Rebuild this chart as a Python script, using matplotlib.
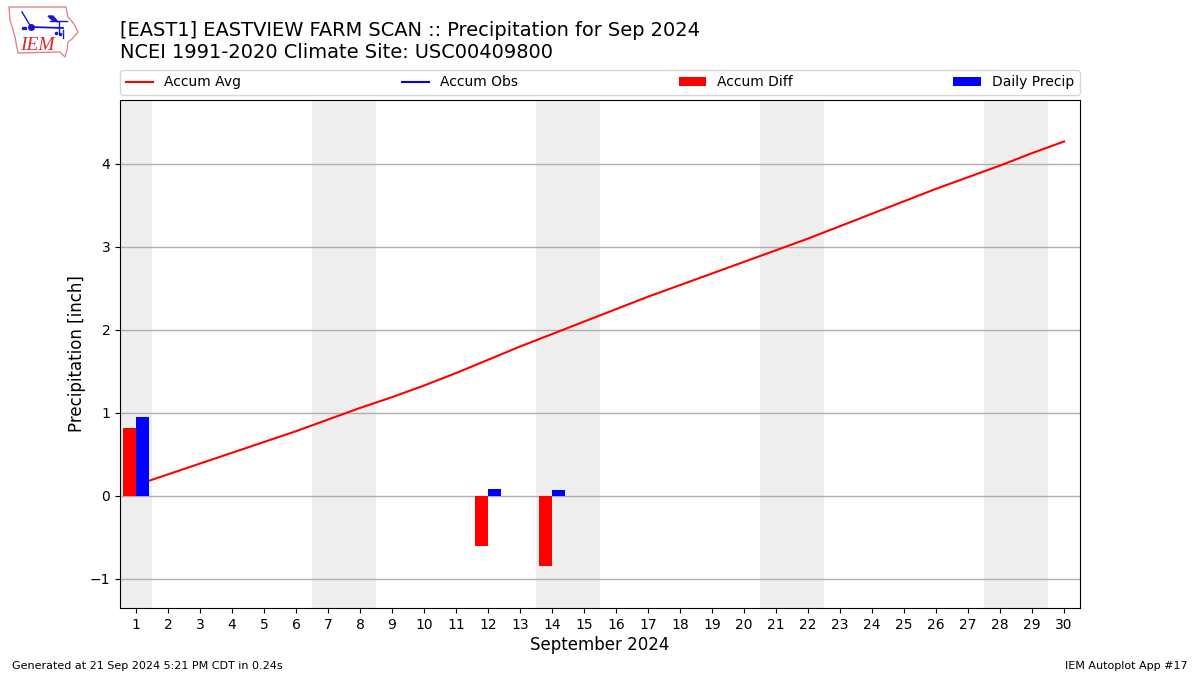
import numpy as np
import matplotlib
matplotlib.use('Agg')
import matplotlib.pyplot as plt
from matplotlib.patches import Polygon

days = list(range(1, 31))
accum_avg = [0.13, 0.26, 0.39, 0.52, 0.65, 0.78, 0.92, 1.06, 1.19, 1.33,
             1.48, 1.64, 1.80, 1.95, 2.10, 2.25, 2.40, 2.54, 2.68, 2.82,
             2.96, 3.10, 3.25, 3.40, 3.55, 3.70, 3.84, 3.98, 4.13, 4.27]
accum_obs = [np.nan] * 30
rain_days = [1, 12, 14]
accum_diff = [0.82, -0.60, -0.85]
daily_precip = [0.95, 0.085, 0.07]
weekends = [(0.5, 1.5), (6.5, 8.5), (13.5, 15.5), (20.5, 22.5), (27.5, 29.5)]

W, H = 1200, 675
fig = plt.figure(figsize=(12, 6.75), dpi=100)
ax = fig.add_axes([120 / W, 1 - 608 / H, 960 / W, 508 / H])

for a, b in weekends:
    ax.axvspan(a, b, color='#eeeeee', lw=0, zorder=0)
ax.grid(axis='y', color='#b0b0b0', lw=1)
ax.set_axisbelow(True)

ax.plot(days, accum_avg, color='red', lw=1.5, label='Accum Avg', zorder=2)
ax.plot(days, accum_obs, color='blue', lw=1.5, label='Accum Obs', zorder=2)
ax.bar([d - 0.2 for d in rain_days], accum_diff, width=0.4, color='red',
       label='Accum Diff', zorder=3)
ax.bar([d + 0.2 for d in rain_days], daily_precip, width=0.4, color='blue',
       label='Daily Precip', zorder=3)

ax.set_xlim(0.5, 30.5)
ax.set_ylim(-1.35, 4.77)
ax.set_xticks(days)
ax.set_yticks([-1, 0, 1, 2, 3, 4])
ax.set_xlabel('September 2024', fontsize=12, labelpad=2.8)
ax.set_ylabel('Precipitation [inch]', fontsize=12, labelpad=3)
ax.legend(loc='lower left', bbox_to_anchor=(0, 1 + 5 / 508, 1, 0.05), ncol=4,
          mode='expand', borderaxespad=0, fontsize=10)

fig.text(120 / W, 1 - 30 / H, '[EAST1] EASTVIEW FARM SCAN :: Precipitation for Sep 2024',
         fontsize=13.98, va='center')
fig.text(120 / W, 1 - 52 / H, 'NCEI 1991-2020 Climate Site: USC00409800',
         fontsize=13.98, va='center')
fig.text(12 / W, 1 - 666 / H, 'Generated at 21 Sep 2024 5:21 PM CDT in 0.24s',
         fontsize=8, va='center')
fig.text(1188 / W, 1 - 666 / H, 'IEM Autoplot App #17', fontsize=8, va='center',
         ha='right')

# logo, in pixel coordinates of the picture
logo = fig.add_axes([0, 1 - 60 / H, 80 / W, 60 / H])
logo.set_xlim(0, 80)
logo.set_ylim(60, 0)
logo.axis('off')
state = [(9, 7), (66, 7), (68, 17), (74, 24), (78, 32), (72, 39), (68, 42),
         (67, 50), (65, 57), (60, 52), (18, 53), (15, 37), (10, 20)]
logo.add_patch(Polygon(state, closed=True, fill=False, edgecolor='#e08888', lw=1))
logo.plot([31, 63], [27, 28], color='#1515d0', lw=1.3)
logo.plot([31], [27], 'o', color='#1515d0', ms=4)
logo.plot([22, 31], [12, 27], color='#1515d0', lw=1)
logo.fill([48, 53, 58, 52], [16, 16, 22, 20], color='#1515d0')
logo.plot([50, 67], [21, 21], color='#1515d0', lw=1)
logo.plot([59, 59], [22, 33], color='#1515d0', lw=1)
logo.plot([63, 63], [30, 38], color='#1515d0', lw=1)
logo.plot([56, 60], [33, 34], 'o', color='#1515d0', ms=1.5)
logo.plot([23, 25], [28, 28], 'o', color='#1515d0', ms=1.5)
logo.text(37, 45, 'IEM', color='#d82828', fontsize=14, style='italic',
          family='Liberation Serif', ha='center', va='center')

fig.savefig('out.png', dpi=100)
